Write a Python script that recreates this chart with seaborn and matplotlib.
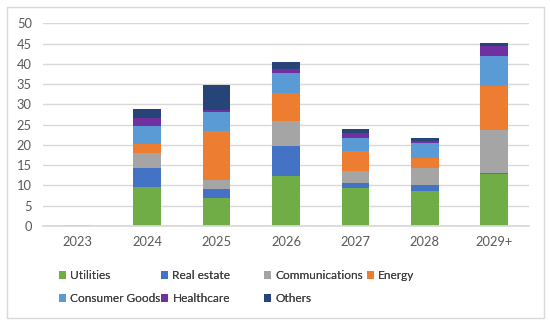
import numpy as np
import pandas as pd
import matplotlib
matplotlib.use("Agg")
import matplotlib.pyplot as plt
from matplotlib.patches import Rectangle, Patch
import seaborn as sns

years = ["2023", "2024", "2025", "2026", "2027", "2028", "2029+"]
sectors = ["Utilities", "Real estate", "Communications", "Energy",
           "Consumer Goods", "Healthcare", "Others"]
utilities      = [0.0, 9.5, 7.0, 12.4, 9.3, 8.5, 12.9]
real_estate    = [0.0, 4.8, 2.1, 7.2, 1.4, 1.5, 0.1]
communications = [0.25, 3.8, 2.25, 6.4, 2.8, 4.3, 10.7]
energy         = [0.0, 2.2, 12.05, 6.7, 4.9, 2.4, 10.8]
consumer_goods = [0.0, 4.45, 4.8, 5.1, 3.2, 3.7, 7.5]
healthcare     = [0.0, 1.95, 0.4, 0.85, 1.3, 0.65, 2.5]
others         = [0.0, 2.1, 6.1, 1.85, 1.1, 0.75, 0.6]
series = [utilities, real_estate, communications, energy,
          consumer_goods, healthcare, others]
colors = ["#70AD47", "#4472C4", "#A5A5A5", "#ED7D31",
          "#5B9BD5", "#7030A0", "#264478"]

sns.set_theme(style="white")
plt.rcParams["font.family"] = ["Lato", "DejaVu Sans"]

fig = plt.figure(figsize=(5.5, 3.26), dpi=100)
ax = fig.add_axes([0.078, 0.307, 0.884, 0.6215])

cum = np.cumsum(np.array(series), axis=0)
# draw from top layer down so lower layers overlay
for i in range(len(sectors) - 1, -1, -1):
    df = pd.DataFrame({"year": years, "value": cum[i]})
    sns.barplot(data=df, x="year", y="value", color=colors[i],
                width=0.4, errorbar=None, saturation=1, ax=ax,
                linewidth=0, order=years)

ax.set_ylim(0, 50)
ax.set_yticks(range(0, 51, 5))
ax.set_xlim(-0.5, 6.5)
ax.set_xlabel("")
ax.set_ylabel("")
ax.yaxis.grid(True, color="#D9D9D9", linewidth=1)
ax.set_axisbelow(True)
for s in ["left", "right", "top"]:
    ax.spines[s].set_visible(False)
ax.spines["bottom"].set_color("#D9D9D9")
ax.tick_params(axis="both", length=0, labelsize=9.3, labelcolor="#595959")
ax.tick_params(axis="x", pad=7)
ax.tick_params(axis="y", pad=8)

handles = [Patch(facecolor=c, edgecolor="none", label=s) for s, c in zip(sectors, colors)]
columns = [[0, 4], [1, 5], [2, 6], [3]]
col_x = [0.107, 0.293, 0.480, 0.667]
for cols, x in zip(columns, col_x):
    leg = fig.legend([handles[k] for k in cols], [sectors[k] for k in cols],
                     ncol=1, loc="upper left", bbox_to_anchor=(x, 0.171),
                     frameon=False, fontsize=8.6, handlelength=0.6, handleheight=0.6,
                     handletextpad=0.35, labelspacing=1.02, borderpad=0,
                     borderaxespad=0, labelcolor="#404040")
    fig.add_artist(leg)

fig.patches.append(Rectangle((0.013, 0.025), 0.976, 0.955, transform=fig.transFigure,
                             fill=False, edgecolor="#D9D9D9", linewidth=1))

fig.savefig("out.png", dpi=100)
